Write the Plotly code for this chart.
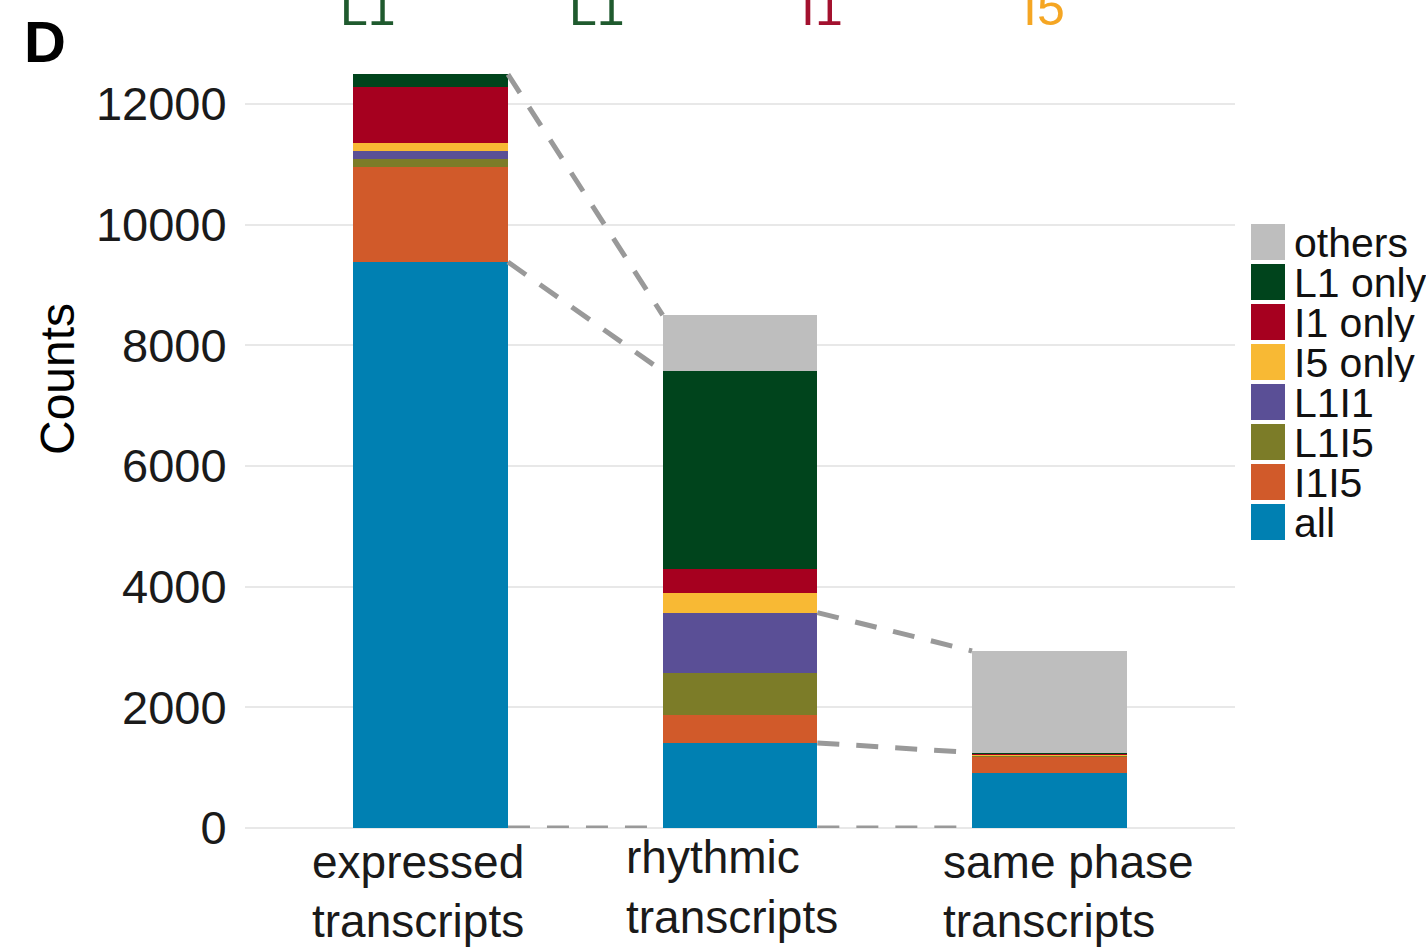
import plotly.graph_objects as go

# Stages on the x axis (two text lines each)
stage_line1 = ["expressed", "rhythmic", "same phase"]
stage_line2 = ["transcripts", "transcripts", "transcripts"]
stage_pos = [0, 1, 2]

# Stacked groups, bottom to top
groups = ["all", "I1I5", "L1I5", "L1I1", "I5 only", "I1 only", "L1 only", "others"]
colors = ["#0080B2", "#D15A2A", "#7C7C28", "#5A4F96", "#F8B934", "#A6001F", "#00441C", "#BEBEBE"]

# Counts per group for each stage
all_counts     = [9380, 1410, 915]
i1i5_counts    = [1580, 460, 270]
l1i5_counts    = [130, 700, 10]
l1i1_counts    = [130, 1000, 10]
i5_only_counts = [130, 330, 5]
i1_only_counts = [930, 400, 20]
l1_only_counts = [210, 3270, 20]
others_counts  = [0, 930, 1683]

series = [all_counts, i1i5_counts, l1i5_counts, l1i1_counts,
          i5_only_counts, i1_only_counts, l1_only_counts, others_counts]

y_ticks = [0, 2000, 4000, 6000, 8000, 10000, 12000]
y_tick_text = ["0", "2000", "4000", "6000", "8000", "10000", "12000"]

# Genotype labels along the top
top_labels = ["L1", "L1", "I1", "I5"]
top_label_x = [368, 597, 822, 1044]
top_label_colors = ["#1F5A2E", "#1F5A2E", "#A3112F", "#F5A623"]

BAR_W = 0.5
W, H = 1426, 947
L, R, T, B = 245, 191, 36, 119
Y_MAX = 13125
FONT = "Liberation Sans, Arial"

fig = go.Figure()
for name, vals, col in zip(groups, series, colors):
    fig.add_trace(go.Bar(x=stage_pos, y=vals, name=name, width=BAR_W,
                         marker=dict(color=col, line=dict(width=0)),
                         showlegend=False))

# cumulative heights used by the connector lines
cum = []
running = [0, 0, 0]
for vals in series:
    running = [a + b for a, b in zip(running, vals)]
    cum.append(running)
total = cum[-1]
below_others = cum[-2]
through_l1i1 = cum[3]
all_top = cum[0]

connectors = [
    (0, total[0], total[1]),
    (0, all_top[0], below_others[1]),
    (0, 0, 0),
    (1, through_l1i1[1], total[2]),
    (1, all_top[1], below_others[2]),
    (1, 0, 0),
]
for i, y0, y1 in connectors:
    fig.add_trace(go.Scatter(x=[i + BAR_W / 2, i + 1 - BAR_W / 2], y=[y0, y1],
                             mode="lines", showlegend=False, hoverinfo="skip",
                             line=dict(color="#999999", width=5, dash="22px,17px")))

plot_w = W - L - R
plot_h = H - T - B
def px_to_paper_x(px):
    return (px - L) / plot_w
def px_to_paper_y(py):
    return (H - B - py) / plot_h

shapes = []
annotations = []

# legend drawn as swatches + labels, others on top
leg_top = 224
pitch = 40
for k, (name, col) in enumerate(zip(groups[::-1], colors[::-1])):
    y0 = leg_top + k * pitch
    shapes.append(dict(type="rect", xref="paper", yref="paper",
                       x0=px_to_paper_x(1251), x1=px_to_paper_x(1285),
                       y0=px_to_paper_y(y0 + 36), y1=px_to_paper_y(y0),
                       fillcolor=col, line=dict(width=0)))
    annotations.append(dict(x=px_to_paper_x(1293), y=px_to_paper_y(y0 + 19),
                            xref="paper", yref="paper", xanchor="left", yanchor="middle",
                            text=name, showarrow=False, height=38, borderpad=0,
                            font=dict(size=41, color="#111111", family=FONT)))

# category labels, left aligned under each bar
label_left = [311, 625, 942]
line1_bottom = [889, 884, 889]
line2_bottom = [948, 944, 948]
for t1, t2, xl, b1, b2 in zip(stage_line1, stage_line2, label_left, line1_bottom, line2_bottom):
    for txt, yb in ((t1, b1), (t2, b2)):
        annotations.append(dict(x=px_to_paper_x(xl), y=px_to_paper_y(yb),
                                xref="paper", yref="paper", xanchor="left", yanchor="bottom",
                                text=txt, showarrow=False, borderpad=0,
                                font=dict(size=46, color="#1A1A1A", family=FONT)))

for txt, xp, col in zip(top_labels, top_label_x, top_label_colors):
    annotations.append(dict(x=px_to_paper_x(xp), y=px_to_paper_y(38), xref="paper", yref="paper",
                            xanchor="center", yanchor="bottom", text=txt, showarrow=False,
                            font=dict(size=50, color=col, family=FONT)))

# panel letter
annotations.append(dict(x=px_to_paper_x(22), y=px_to_paper_y(42), xref="paper", yref="paper",
                        xanchor="left", yanchor="middle", text="<b>D</b>", showarrow=False,
                        font=dict(size=58, color="#000000", family=FONT)))

# y-axis title
annotations.append(dict(x=px_to_paper_x(57), y=px_to_paper_y(379), xref="paper", yref="paper",
                        xanchor="center", yanchor="middle", text="Counts", textangle=-90,
                        showarrow=False,
                        font=dict(size=48, color="#000000", family=FONT)))

fig.update_layout(
    width=W, height=H,
    margin=dict(l=L, r=R, t=T, b=B, autoexpand=False),
    barmode="stack", bargap=0,
    plot_bgcolor="white", paper_bgcolor="white",
    shapes=shapes, annotations=annotations,
    font=dict(family=FONT, color="#1A1A1A"),
)
fig.update_xaxes(range=[-0.6, 2.6], tickvals=stage_pos, showticklabels=False,
                 showgrid=False, zeroline=False, showline=False, ticks="")
fig.update_yaxes(range=[0, Y_MAX], tickvals=y_ticks, ticktext=y_tick_text,
                 showgrid=True, gridcolor="#E8E8E8", gridwidth=2,
                 zeroline=True, zerolinecolor="#E8E8E8", zerolinewidth=2,
                 showline=False, ticks="outside", ticklen=8, tickcolor="rgba(0,0,0,0)",
                 tickfont=dict(size=47, color="#1A1A1A"))

fig.write_html("out.html")
